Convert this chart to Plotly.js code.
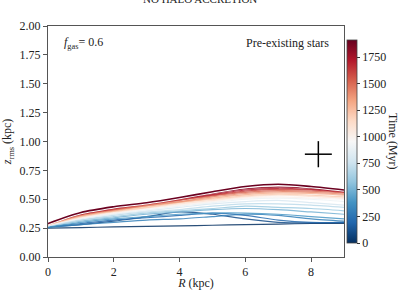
<!DOCTYPE html>
<html>
<head>
<meta charset="utf-8">
<script src="https://cdn.plot.ly/plotly-3.0.1.min.js"></script>
<style>html,body{margin:0;padding:0;background:#fff;}#chart{width:400px;height:290px;}</style>
</head>
<body>
<div id="chart"></div>
<script>
// Radius grid (kpc)
const R = [0, 1, 2, 3, 4, 5, 6, 7, 8, 9];
// Snapshot times (Myr)
const times = [0, 100, 200, 300, 400, 500, 600, 700, 800, 900, 1000, 1100, 1200, 1300, 1400, 1500, 1600, 1700, 1800, 1900];
// z_rms (kpc) for each snapshot
const z_t0    = [0.250, 0.255, 0.260, 0.265, 0.270, 0.275, 0.280, 0.285, 0.290, 0.290];
const z_t100  = [0.260, 0.280, 0.310, 0.350, 0.390, 0.370, 0.330, 0.300, 0.295, 0.300];
const z_t200  = [0.260, 0.290, 0.320, 0.340, 0.360, 0.380, 0.360, 0.320, 0.300, 0.300];
const z_t300  = [0.255, 0.280, 0.300, 0.320, 0.330, 0.350, 0.370, 0.360, 0.330, 0.310];
const z_t400  = [0.260, 0.300, 0.330, 0.350, 0.370, 0.380, 0.380, 0.370, 0.350, 0.330];
const z_t500  = [0.270, 0.310, 0.340, 0.370, 0.390, 0.410, 0.420, 0.410, 0.390, 0.370];
const z_t600  = [0.270, 0.320, 0.350, 0.380, 0.400, 0.420, 0.440, 0.430, 0.420, 0.400];
const z_t700  = [0.270, 0.320, 0.360, 0.390, 0.410, 0.440, 0.460, 0.460, 0.450, 0.430];
const z_t800  = [0.270, 0.330, 0.370, 0.400, 0.430, 0.460, 0.480, 0.490, 0.470, 0.450];
const z_t900  = [0.275, 0.335, 0.375, 0.410, 0.440, 0.470, 0.500, 0.510, 0.500, 0.480];
const z_t1000 = [0.275, 0.340, 0.380, 0.420, 0.450, 0.480, 0.510, 0.520, 0.510, 0.500];
const z_t1100 = [0.280, 0.345, 0.390, 0.425, 0.460, 0.490, 0.520, 0.535, 0.525, 0.510];
const z_t1200 = [0.280, 0.350, 0.395, 0.430, 0.470, 0.500, 0.530, 0.545, 0.535, 0.520];
const z_t1300 = [0.280, 0.355, 0.400, 0.440, 0.475, 0.510, 0.540, 0.555, 0.550, 0.535];
const z_t1400 = [0.285, 0.360, 0.405, 0.445, 0.480, 0.520, 0.550, 0.565, 0.560, 0.545];
const z_t1500 = [0.285, 0.365, 0.410, 0.450, 0.490, 0.530, 0.560, 0.575, 0.570, 0.555];
const z_t1600 = [0.285, 0.370, 0.415, 0.455, 0.495, 0.535, 0.570, 0.585, 0.580, 0.560];
const z_t1700 = [0.290, 0.370, 0.420, 0.460, 0.500, 0.540, 0.580, 0.595, 0.585, 0.565];
const z_t1800 = [0.290, 0.375, 0.425, 0.465, 0.505, 0.550, 0.590, 0.605, 0.595, 0.570];
const z_t1900 = [0.290, 0.385, 0.435, 0.470, 0.515, 0.565, 0.610, 0.630, 0.610, 0.580];
const zSeries = [z_t0, z_t100, z_t200, z_t300, z_t400, z_t500, z_t600, z_t700, z_t800, z_t900,
                 z_t1000, z_t1100, z_t1200, z_t1300, z_t1400, z_t1500, z_t1600, z_t1700, z_t1800, z_t1900];
// Typical error cross
const errR = [8.22];
const errZ = [0.89];
const errDR = [0.41];
const errDZ = [0.113];
// Colorbar ticks
const cbTicks = [0, 250, 500, 750, 1000, 1250, 1500, 1750];

const tMin = 0, tMax = 1910;
// matplotlib RdBu_r
const cs = [
  [0.0, '#053061'], [0.1, '#2166ac'], [0.2, '#4393c3'], [0.3, '#92c5de'], [0.4, '#d1e5f0'],
  [0.5, '#f7f7f7'], [0.6, '#fddbc7'], [0.7, '#f4a582'], [0.8, '#d6604d'], [0.9, '#b2182b'], [1.0, '#67001f']
];
function hex2rgb(h){return [parseInt(h.substr(1,2),16),parseInt(h.substr(3,2),16),parseInt(h.substr(5,2),16)];}
function colorAt(t){
  const f = Math.max(0, Math.min(1, (t - tMin) / (tMax - tMin)));
  for (let i = 0; i < cs.length - 1; i++) {
    if (f <= cs[i+1][0]) {
      const a = hex2rgb(cs[i][1]), b = hex2rgb(cs[i+1][1]);
      const u = (f - cs[i][0]) / (cs[i+1][0] - cs[i][0]);
      return 'rgb(' + a.map((v,k)=>Math.round(v + (b[k]-v)*u)).join(',') + ')';
    }
  }
  return cs[cs.length-1][1];
}

const serif = '"Liberation Serif", "Times New Roman", serif';
const traces = [];
zSeries.forEach((z, i) => {
  const last = i === zSeries.length - 1;
  if (last) {
    traces.push({x: R, y: z, mode: 'lines', type: 'scatter', hoverinfo: 'skip', showlegend: false,
      line: {color: '#ffffff', width: 3.5, shape: 'spline', smoothing: 0.8}});
  }
  traces.push({x: R, y: z, mode: 'lines', type: 'scatter', showlegend: false,
    opacity: last ? 1 : 0.85,
    line: {color: colorAt(times[i]), width: last ? 1.6 : 1.2, shape: 'spline', smoothing: 0.8}});
});
// error cross
traces.push({x: errR, y: errZ, mode: 'markers', type: 'scatter', showlegend: false,
  marker: {size: 0.1, color: 'black'},
  error_x: {type: 'data', array: errDR, visible: true, width: 0, thickness: 1.5, color: 'black'},
  error_y: {type: 'data', array: errDZ, visible: true, width: 0, thickness: 1.5, color: 'black'}});
// colorbar carrier
traces.push({x: [null], y: [null], mode: 'markers', type: 'scatter', showlegend: false, hoverinfo: 'skip',
  marker: {color: [tMin], cmin: tMin, cmax: tMax, colorscale: cs, showscale: true,
    colorbar: {x: 1.01, xanchor: 'left', y: 0.5, yanchor: 'middle', len: 203, lenmode: 'pixels',
      thickness: 10, thicknessmode: 'pixels', outlinewidth: 0.8, outlinecolor: '#444',
      tickvals: cbTicks, ticks: 'outside', ticklen: 3, tickcolor: '#333',
      tickfont: {family: serif, size: 12, color: '#222'}, xpad: 0, ypad: 0}}});

const layout = {
  width: 400, height: 290,
  margin: {l: 48, r: 56, t: 26, b: 33, autoexpand: false},
  paper_bgcolor: '#fff', plot_bgcolor: '#fff',
  font: {family: serif, size: 12, color: '#222'},
  xaxis: {range: [0, 9], tickvals: [0, 2, 4, 6, 8], showgrid: false, zeroline: false,
    showline: true, linecolor: '#555', linewidth: 1, mirror: true,
    ticks: 'outside', ticklen: 4, tickcolor: '#555', automargin: false,
    title: {text: '<i>R</i> (kpc)', standoff: 5, font: {family: serif, size: 12}}},
  yaxis: {range: [0, 2], tickvals: [0, 0.25, 0.5, 0.75, 1, 1.25, 1.5, 1.75, 2], tickformat: '.2f',
    showgrid: false, zeroline: false, showline: true, linecolor: '#555', linewidth: 1, mirror: true,
    ticks: 'outside', ticklen: 4, tickcolor: '#555', automargin: false,
    title: {text: '<i>z</i><sub>rms</sub> (kpc)', standoff: 6, font: {family: serif, size: 12}}},
  annotations: [
    {text: 'NO HALO ACCRETION', xref: 'paper', yref: 'paper', x: 0.514, y: 1.118, xanchor: 'center', yanchor: 'middle',
      showarrow: false, font: {family: serif, size: 11, color: '#222'}},
    {text: '<i>f</i><sub>gas</sub>= 0.6', xref: 'paper', yref: 'paper', x: 0.047, y: 0.926, xanchor: 'left', yanchor: 'middle',
      showarrow: false, font: {family: serif, size: 12, color: '#222'}},
    {text: 'Pre-existing stars', xref: 'paper', yref: 'paper', x: 0.955, y: 0.926, xanchor: 'right', yanchor: 'middle',
      showarrow: false, font: {family: serif, size: 12, color: '#222'}},
    {text: 'Time (Myr)', xref: 'paper', yref: 'paper', x: 1.147, y: 0.5, xshift: 6, xanchor: 'center', yanchor: 'middle',
      textangle: 90, showarrow: false, font: {family: serif, size: 12, color: '#222'}}
  ]
};
Plotly.newPlot('chart', traces, layout, {displayModeBar: false, staticPlot: true});
</script>
</body>
</html>
